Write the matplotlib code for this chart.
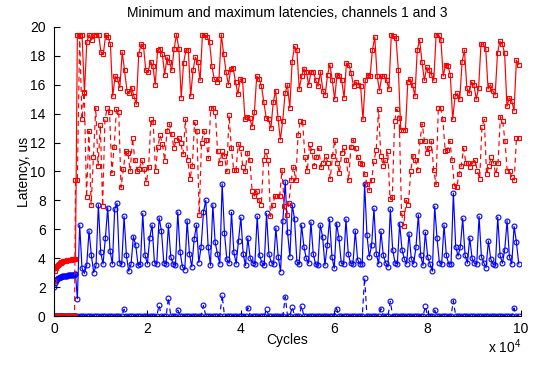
import numpy as np
import matplotlib
matplotlib.use("Agg")
import matplotlib.pyplot as plt
from matplotlib.ticker import FuncFormatter

plt.rcParams["font.family"] = ["Liberation Sans", "DejaVu Sans"]
plt.rcParams["mathtext.default"] = "regular"

# warm-up phase (dense samples), cycles
warm_cycles = [0, 200, 400, 600, 800, 1000, 1200, 1400, 1600, 1800, 2000, 2200,
               2400, 2600, 2800, 3000, 3200, 3400, 3600, 3800, 4000, 4200, 4400, 4600]
main_start, main_end = 5000, 99500

# channel 1 max (red solid)
ch1_max_warm = [2.4, 3.1, 3.3, 3.45, 3.55, 3.6, 3.65, 3.7, 3.72, 3.75, 3.78, 3.8,
                3.82, 3.84, 3.85, 3.87, 3.88, 3.9, 3.9, 3.92, 3.93, 3.94, 3.95, 3.95]
ch1_max = [
    19.47, 19.47, 19.47, 15.4, 18.95, 19.47, 19.1, 19.47, 19.47, 19.47,
    18.26, 18.1, 19.47, 19.3, 18.8, 15.2, 16.6, 16.4, 15.8, 18.26,
    17.0, 15.6, 15.4, 15.8, 15.2, 14.65, 18.1, 18.8, 18.7, 17.0,
    16.9, 17.6, 17.3, 16.0, 18.4, 18.5, 18.1, 16.7, 17.9, 17.6,
    17.0, 18.5, 19.47, 18.5, 15.1, 17.5, 18.4, 18.4, 15.2, 17.0,
    17.9, 17.6, 16.3, 19.47, 19.47, 19.3, 18.95, 17.3, 16.4, 16.2,
    16.4, 19.47, 18.1, 16.9, 16.0, 17.1, 17.15, 16.2,
    15.35, 16.4, 16.3, 13.6, 13.8, 13.7, 13.1, 14.1, 16.6, 16.4,
    15.9, 14.8, 13.7, 13.6, 13.0, 14.8, 15.6, 13.7, 12.2, 13.5,
    15.4, 16.0, 14.4, 17.6, 18.65, 18.4, 15.7, 16.6, 17.1, 16.9,
    16.0, 16.9, 16.9, 16.3, 15.9, 16.9, 15.6, 15.3, 16.7, 17.4,
    16.3, 15.0, 16.7, 16.6, 16.3, 15.1, 17.5, 17.4, 16.8, 15.9,
    16.2, 16.0, 15.9, 13.6, 16.3, 16.7, 16.6, 18.4, 19.3, 16.6,
    15.6, 16.6, 16.6, 16.3, 15.7, 19.47, 19.35, 19.2, 17.0,
    12.9, 12.9, 12.9,
    16.2, 16.4, 16.0, 15.2, 18.4, 19.1, 17.6, 16.3, 17.2, 17.0,
    16.7, 16.3, 19.47, 19.47, 19.1, 16.6, 17.4, 17.3, 16.7, 13.6,
    15.2, 15.4, 15.0, 17.6, 18.4, 15.8, 15.4, 16.2, 16.0, 15.0,
    15.8, 18.8, 18.8, 18.5, 15.7, 16.0, 15.6, 15.3, 18.2, 19.0,
    18.8, 18.2, 14.5, 15.1, 14.9, 14.2, 17.7, 17.4,
]

# channel 1 min (red dashed)
ch1_min_warm = [0, 0, 0, 0, 0, 0, 0, 0, 0, 0, 0, 0,
                0, 0, 0, 0, 0, 0, 0, 0, 0, 0, 0, 9.4]
ch1_min = [
    9.4, 19.4, 13.6, 15.5, 8.2, 12.8, 7.7, 11.0, 14.4, 10.4,
    13.2, 7.6, 13.6, 14.4, 14.1, 9.9, 11.7, 14.3, 14.1, 8.9,
    10.15, 11.4, 11.3, 10.0, 12.3, 10.8, 10.0, 10.2, 10.8, 10.2,
    9.2, 10.3, 13.6, 13.4, 10.0, 11.7, 12.5, 11.9, 10.75, 12.8,
    13.3, 12.6, 11.6, 12.2, 12.3, 11.95, 11.2, 13.6, 10.8, 9.5,
    10.4, 13.4, 12.8, 7.0, 12.0, 12.8, 12.2, 10.9, 14.4, 14.4,
    14.1, 11.4,
    10.6, 11.4, 11.1, 10.0, 13.9, 11.6, 10.1, 10.1, 11.9, 11.6,
    10.3, 10.0, 11.3, 10.8, 8.65, 8.3, 8.65, 8.0, 7.7, 10.8,
    11.4, 10.8, 6.9, 7.7, 8.3, 8.3, 8.3, 10.1, 7.6, 7.0,
    7.8, 9.4, 10.3, 9.4, 12.5, 13.5, 13.4, 11.0, 10.0, 11.9,
    11.4, 10.4, 11.0, 11.6, 10.3, 10.6, 11.1, 10.6, 9.5, 11.1,
    12.2, 10.6, 9.9, 11.3, 11.7, 10.8, 9.4, 11.7, 12.2, 11.6,
    11.0, 10.6, 10.5, 9.8, 9.1, 8.7, 9.4,
    10.7, 11.5, 14.3, 11.1, 10.4, 10.8, 11.4, 8.1, 8.2, 13.5,
    14.3, 13.7, 7.15, 6.25, 8.0, 7.7, 10.0, 11.1, 10.8, 10.1,
    12.1, 13.3, 12.1, 11.3, 11.6, 12.1, 10.1, 9.1, 14.4, 14.4,
    13.6, 11.4, 11.5, 12.1, 10.8, 9.0, 8.9, 9.8, 10.4, 11.6,
    10.6, 10.6, 10.3, 10.6, 10.8, 10.0, 9.5, 13.1, 13.6, 9.8,
    10.4, 11.0, 10.6, 9.8, 10.6, 13.8, 13.5, 12.1, 10.0, 10.0,
    9.6, 9.4, 12.3, 12.3,
]

# channel 3 max (blue solid)
ch3_max_warm = [2.0, 2.3, 2.45, 2.55, 2.6, 2.65, 2.68, 2.7, 2.72, 2.74, 2.75, 2.76,
                2.78, 2.79, 2.8, 2.81, 2.82, 2.83, 2.84, 2.85, 2.86, 2.87, 2.88, 2.88]
ch3_max = [
    1.2,
    6.3, 3.3, 2.95, 3.5, 5.9, 4.2, 3.0, 3.5, 7.7, 4.4,
    3.6, 5.4, 7.5, 4.5, 3.6, 7.4, 7.8, 3.7, 3.6, 6.9,
    4.2, 3.1, 3.6, 5.5, 4.9, 3.5, 3.6, 7.1, 4.2, 3.6,
    5.4, 6.3, 3.7, 3.6, 6.8, 5.9, 3.7, 3.6, 6.3, 4.1,
    3.6, 3.5, 7.2, 4.4, 3.4, 3.2, 6.6, 4.3, 3.4, 5.3,
    6.3, 3.7, 4.8, 7.2, 8.0, 4.8, 3.5, 7.7,
    5.1, 4.3, 3.6, 9.15, 5.72, 3.92, 3.65, 7.18, 4.45, 3.6,
    5.19, 6.83, 4.3, 3.5, 5.4, 4.0, 3.7, 3.6, 6.9, 4.2,
    3.7, 3.5, 7.1, 4.3, 3.7, 3.6, 6.1, 4.1, 3.07, 6.6,
    9.3, 5.8, 4.1, 7.7, 6.7, 3.75, 3.6, 6.3, 4.8, 4.0,
    3.65, 6.5, 4.3, 3.6, 3.5, 6.3, 5.5, 3.5, 4.9, 6.7,
    4.1, 3.3, 6.4, 5.4, 3.65, 3.6, 6.7, 4.3, 3.65, 3.6,
    5.9, 3.9, 3.6, 3.6, 9.15, 5.6, 4.1,
    4.9, 7.45, 4.3, 3.6, 5.85, 4.2, 3.7, 3.4, 7.4, 4.6,
    3.7, 3.6, 6.4, 4.6, 3.95, 3.6, 5.7, 3.95, 3.6, 4.8,
    7.0, 4.2, 3.5, 5.8, 4.1, 3.6, 3.1, 7.6, 5.4, 3.7,
    3.6, 6.3, 4.2, 3.6, 3.6, 8.5, 4.8, 4.15, 4.8, 6.75,
    4.2, 3.65, 5.4, 4.0, 3.65, 3.6, 6.9, 4.1, 3.7, 3.35,
    5.2, 3.95, 3.6, 3.5, 6.85, 4.2, 3.65, 4.6, 6.6, 4.1,
    3.6, 6.2, 5.1, 3.6,
]

# channel 3 min (blue dashed)
ch3_min_warm = [0, 0, 0, 0, 0, 0, 0, 0, 0, 0, 0, 0,
                0, 0, 0, 0, 0, 0, 0, 0, 0, 0, 0, 0]
ch3_min = [
    0, 0, 0, 0, 0, 0, 0, 0, 0, 0,
    0, 0, 0, 0, 0, 0, 0, 0, 0, 0,
    0.46, 0, 0, 0, 0, 0, 0, 0, 0, 0,
    0, 0, 0, 0, 0, 0.74, 0, 0, 0, 1.27,
    0, 0, 0, 0.41, 0, 0, 0, 0, 0, 0,
    0, 0, 0, 0, 0.74, 0, 0, 0, 0, 0,
    0, 0, 1.45, 0, 0, 0, 0, 0, 0, 0,
    0, 0, 0, 0.58, 0, 0, 0, 0, 0, 0,
    0, 0.46, 0, 0, 0, 0, 0, 0, 0, 1.34,
    0, 0, 0.64, 0, 0, 0, 0.69, 0, 0, 0,
    0, 0, 0, 0, 0, 0, 0, 0, 0, 0,
    0, 0.51, 0, 0, 0, 0, 0, 0, 0, 0,
    0, 0, 0, 2.65, 0, 0, 0, 0, 0, 0,
    0.51, 0, 0, 0, 1.02, 0, 0, 0, 0, 0,
    0, 0, 0, 0, 0, 0, 0, 0, 0, 0.67,
    0, 0, 0, 0.41, 0, 0, 0, 0, 0, 0,
    0, 1.06, 0, 0, 0, 0, 0, 0, 0, 0,
    0, 0, 0, 0, 0, 0, 0, 0, 0, 0,
    0, 0, 0, 0, 0, 0, 0, 0.55, 0, 0,
]


def cycles_for(values):
    return np.concatenate([warm_cycles, np.linspace(main_start, main_end, len(values))])


fig = plt.figure(figsize=(5.4, 3.74), dpi=100)
ax = fig.add_axes([0.1, 0.155, 0.865, 0.773])

dash = (4.3, 3.2)
common = dict(lw=0.85, markersize=3.5, markerfacecolor="none", markeredgewidth=0.8)

ax.plot(cycles_for(ch3_max), ch3_max_warm + ch3_max, "-", color="#0000ff", marker="o", **common)
ax.plot(cycles_for(ch3_min), ch3_min_warm + ch3_min, "--", color="#0000ff", marker="o",
        dashes=dash, **common)
ax.plot(cycles_for(ch1_max), ch1_max_warm + ch1_max, "-", color="#ff0000", marker="s", **common)
ax.plot(cycles_for(ch1_min), ch1_min_warm + ch1_min, "--", color="#ff0000", marker="s",
        dashes=dash, **common)

ax.set_xlim(0, 100000)
ax.set_ylim(0, 20)
ax.set_xticks(np.arange(0, 100001, 20000))
ax.set_yticks(np.arange(0, 21, 2))
ax.xaxis.set_major_formatter(FuncFormatter(lambda v, pos: f"{v / 1e4:g}"))
ax.tick_params(direction="in", length=4, width=0.8, labelsize=10, pad=4)
ax.tick_params(axis="y", pad=6)
for side in ["top", "right"]:
    ax.spines[side].set_visible(False)

ax.set_title("Minimum and maximum latencies, channels 1 and 3", fontsize=10, pad=7)
ax.set_xlabel("Cycles", fontsize=10)
ax.xaxis.set_label_coords(0.5, -0.06)
ax.set_ylabel("Latency, us", fontsize=10)
ax.yaxis.set_label_coords(-0.05, 0.5)
ax.text(1.0, -0.105, "x 10$^{4}$", transform=ax.transAxes, ha="right", va="center", fontsize=10)

fig.savefig("out.png", dpi=100)
